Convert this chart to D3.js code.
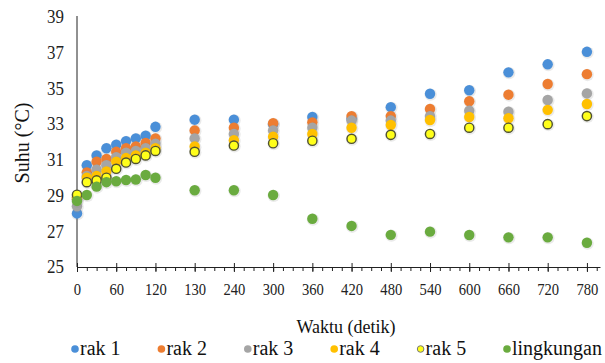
<!DOCTYPE html>
<html>
<head>
<meta charset="utf-8">
<script src="https://cdn.jsdelivr.net/npm/d3@7.9.0/dist/d3.min.js"></script>
</head>
<body style="margin:0">
<svg id="chart" width="605" height="363"></svg>
<script>
// time (s) and temperature readings per rack
const times = [0, 15, 30, 45, 60, 75, 90, 105, 120, 180, 240, 300, 360, 420, 480, 540, 600, 660, 720, 780];
const rak1 = [28.0, 30.7, 31.25, 31.65, 31.85, 32.05, 32.2, 32.35, 32.85, 33.25, 33.25, 33.0, 33.4, 33.3, 33.95, 34.7, 34.9, 35.9, 36.35, 37.05];
const rak2 = [28.8, 30.3, 30.9, 31.05, 31.45, 31.65, 31.75, 31.95, 32.2, 32.65, 32.8, 33.05, 33.1, 33.45, 33.45, 33.85, 34.28, 34.65, 35.25, 35.8];
const rak3 = [28.4, 30.1, 30.45, 30.7, 31.15, 31.4, 31.5, 31.65, 31.9, 32.2, 32.45, 32.65, 32.8, 33.2, 33.2, 33.45, 33.75, 33.7, 34.35, 34.72];
const rak4 = [28.9, 30.0, 30.1, 30.35, 30.9, 31.1, 31.25, 31.4, 31.65, 31.75, 32.1, 32.3, 32.45, 32.8, 32.95, 33.23, 33.4, 33.33, 33.8, 34.13];
const rak5 = [29.05, 29.75, 29.85, 30.0, 30.5, 30.85, 31.05, 31.25, 31.5, 31.45, 31.8, 31.93, 32.07, 32.18, 32.4, 32.45, 32.8, 32.8, 33.0, 33.45];
const lingkungan = [28.7, 29.03, 29.5, 29.75, 29.8, 29.87, 29.9, 30.15, 30.0, 29.3, 29.3, 29.03, 27.7, 27.3, 26.8, 26.98, 26.79, 26.66, 26.66, 26.36];

const seriesNames = ['rak 1', 'rak 2', 'rak 3', 'rak 4', 'rak 5', 'lingkungan'];
const xTicks = [0, 60, 120, 180, 240, 300, 360, 420, 480, 540, 600, 660, 720, 780];
const xTickLabels = ['0', '60', '120', '130', '240', '300', '360', '420', '480', '540', '600', '660', '720', '780'];
const yTicks = [25, 27, 29, 31, 33, 35, 37, 39];

const colors = ['#4a8fd8', '#ed7d31', '#a5a5a5', '#ffc000', '#ffff1a', '#6aab3f'];
const allSeries = [rak1, rak2, rak3, rak4, rak5, lingkungan];
const fontName = '"Liberation Serif"';

const svg = d3.select('#chart');

const x = d3.scaleLinear().domain([0, 800]).range([77, 600]);
const y = d3.scaleLinear().domain([25, 39]).range([267, 17]);

// x axis: minor ticks every 15 s
svg.append('g')
  .attr('transform', `translate(0,${y(25)})`)
  .call(d3.axisBottom(x).tickValues(d3.range(0, 800, 15)).tickSize(4).tickSizeOuter(0).tickFormat(''))
  .call(g => g.selectAll('line').attr('stroke', '#222'))
  .call(g => g.select('.domain').attr('stroke', '#222'));

// x axis: major ticks and labels
const xAxis = svg.append('g')
  .attr('transform', `translate(0,${y(25)})`)
  .call(d3.axisBottom(x).tickValues(xTicks).tickSize(5).tickSizeOuter(0).tickPadding(11)
    .tickFormat((d, i) => xTickLabels[i]));
xAxis.attr('font-family', null).attr('font-size', 17);
xAxis.select('.domain').remove();
xAxis.selectAll('line').attr('y1', -4).attr('stroke', '#222');
xAxis.selectAll('text')
  .style('font-family', fontName)
  .attr('fill', '#222')
  .attr('transform', 'scale(0.86,1)');

// y axis
const yAxis = svg.append('g')
  .attr('transform', `translate(${x(0)},0)`)
  .call(d3.axisLeft(y).tickValues(yTicks).tickSize(0).tickSizeOuter(0).tickPadding(14));
yAxis.attr('font-family', null).attr('font-size', 18);
yAxis.select('.domain').attr('stroke', '#222').attr('d', `M0,${y(39) - 1}V${y(25)}`);
yAxis.selectAll('text')
  .style('font-family', fontName)
  .attr('fill', '#222')
  .attr('transform', 'scale(0.94,1)');

// markers (a faint halo under each, like the spreadsheet glow)
allSeries.forEach((vals, si) => {
  const pts = times.map((t, i) => ({ t, v: vals[i] }));
  const g = svg.append('g');
  g.selectAll('circle.halo')
    .data(pts)
    .join('circle')
    .attr('class', 'halo')
    .attr('cx', d => x(d.t) + 0.6)
    .attr('cy', d => y(d.v) + 0.8)
    .attr('r', 6.2)
    .attr('fill', '#888')
    .attr('fill-opacity', 0.18);
  g.selectAll('circle.dot')
    .data(pts)
    .join('circle')
    .attr('class', 'dot')
    .attr('cx', d => x(d.t))
    .attr('cy', d => y(d.v))
    .attr('r', si === 4 ? 4.6 : 5.2)
    .attr('fill', colors[si])
    .attr('stroke', si === 4 ? '#4f5130' : 'none')
    .attr('stroke-width', si === 4 ? 1.4 : 0);
});

// axis titles
svg.append('text')
  .attr('x', 346).attr('y', 333)
  .attr('text-anchor', 'middle')
  .attr('font-size', 18)
  .style('font-family', fontName)
  .attr('fill', '#111')
  .text('Waktu (detik)');

svg.append('text')
  .attr('transform', 'translate(29,143) rotate(-90)')
  .attr('text-anchor', 'middle')
  .attr('font-size', 20)
  .style('font-family', fontName)
  .attr('fill', '#111')
  .text('Suhu  (°C)');

// legend
seriesNames.forEach((name, i) => {
  const lx = 75 + i * 86.4;
  svg.append('circle')
    .attr('cx', lx).attr('cy', 349)
    .attr('r', i === 4 ? 3.3 : 3.8)
    .attr('fill', colors[i])
    .attr('stroke', i === 4 ? '#777' : 'none')
    .attr('stroke-width', i === 4 ? 1 : 0);
  svg.append('text')
    .attr('x', lx + 5).attr('y', 355)
    .attr('font-size', 20)
    .style('font-family', fontName)
    .attr('fill', '#111')
    .text(name);
});
</script>
</body>
</html>
